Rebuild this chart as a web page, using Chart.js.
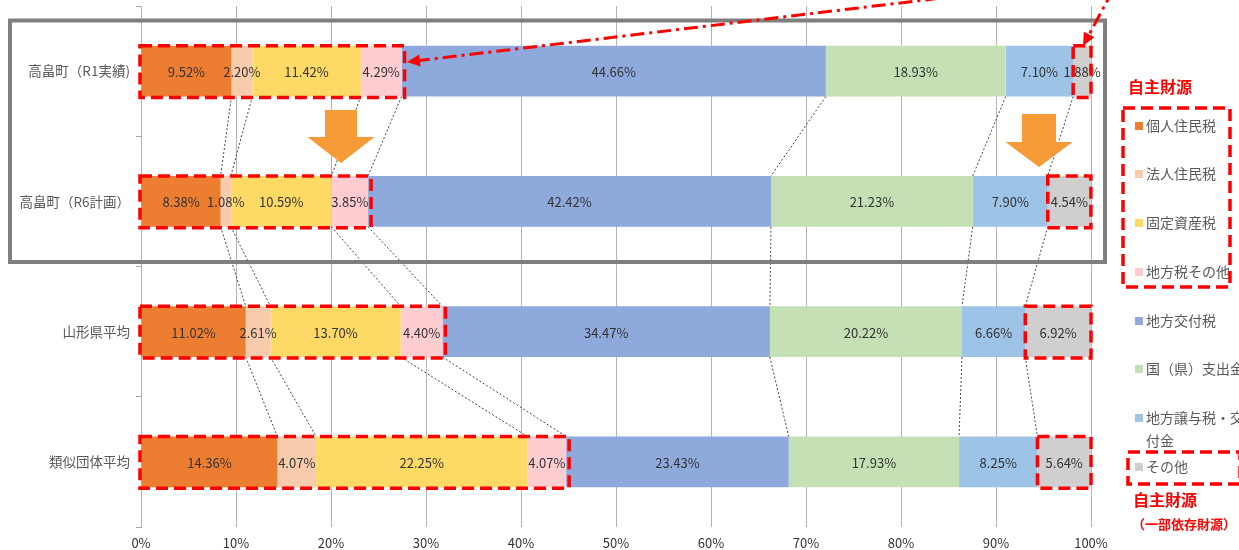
<!DOCTYPE html>
<html lang="ja">
<head>
<meta charset="utf-8">
<title>歳入構成比</title>
<script src="https://cdn.jsdelivr.net/npm/chart.js@4.4.1/dist/chart.umd.min.js"></script>
<style>
  html, body { margin: 0; padding: 0; background: #fff; }
  #wrap { position: relative; width: 1239px; height: 550px; }
</style>
</head>
<body>
<div id="wrap"><canvas id="finChart" width="1239" height="550"></canvas></div>
<script>
const categories = ['高畠町（R1実績)', '高畠町（R6計画）', '山形県平均', '類似団体平均'];
const seriesNames = ['個人住民税', '法人住民税', '固定資産税', '地方税その他', '地方交付税', '国（県）支出金', '地方譲与税・交付金', 'その他'];
const seriesColors = ['#ED7D31', '#F8CBAD', '#FFD966', '#FFCCD0', '#8EA9DB', '#C5E0B4', '#9DC3E6', '#D0CECE'];

const kojinJuminzei = [9.52, 8.38, 11.02, 14.36];
const hojinJuminzei = [2.20, 1.08, 2.61, 4.07];
const koteiShisanzei = [11.42, 10.59, 13.70, 22.25];
const chihozeiSonota = [4.29, 3.85, 4.40, 4.07];
const chihoKofuzei = [44.66, 42.42, 34.47, 23.43];
const kuniKenShishutsukin = [18.93, 21.23, 20.22, 17.93];
const chihoJoyozei = [7.10, 7.90, 6.66, 8.25];
const sonota = [1.88, 4.54, 6.92, 5.64];

const seriesValues = [kojinJuminzei, hojinJuminzei, koteiShisanzei, chihozeiSonota,
                      chihoKofuzei, kuniKenShishutsukin, chihoJoyozei, sonota];

const RED = '#FF0000';
const FONT = '"Noto Sans CJK JP", "Noto Sans", sans-serif';

// segment value labels
const barLabels = {
    id: 'barLabels',
    afterDatasetsDraw(chart) {
        const ctx = chart.ctx;
        ctx.save();
        ctx.font = '13px ' + FONT;
        ctx.fillStyle = '#333';
        ctx.textAlign = 'center';
        ctx.textBaseline = 'middle';
        chart.data.datasets.forEach((ds, k) => {
            chart.getDatasetMeta(k).data.forEach((el, i) => {
                ctx.fillText(ds.data[i].toFixed(2) + '%', (el.x + el.base) / 2, el.y + 1);
            });
        });
        ctx.restore();
    }
};

// dotted connectors, red dashed frames, arrows, legend
const overlays = {
    id: 'overlays',
    afterDraw(chart) {
        const ctx = chart.ctx;
        const metas = chart.data.datasets.map((d, k) => chart.getDatasetMeta(k));
        const x0 = chart.scales.x.getPixelForValue(0);

        // connectors between stacked boundaries
        ctx.save();
        ctx.strokeStyle = '#444';
        ctx.lineWidth = 1;
        ctx.setLineDash([2, 2]);
        for (let i = 0; i < categories.length - 1; i++) {
            for (let k = 0; k < metas.length - 1; k++) {
                const a = metas[k].data[i], b = metas[k].data[i + 1];
                ctx.beginPath();
                ctx.moveTo(a.x, a.y + a.height / 2);
                ctx.lineTo(b.x, b.y - b.height / 2);
                ctx.stroke();
            }
        }
        ctx.restore();

        // red dashed frames
        ctx.save();
        ctx.strokeStyle = RED;
        ctx.lineWidth = 3.5;
        ctx.setLineDash([12, 6]);
        for (let i = 0; i < categories.length; i++) {
            const e3 = metas[3].data[i], e6 = metas[6].data[i], e7 = metas[7].data[i];
            const top = e3.y - e3.height / 2, h = e3.height;
            ctx.strokeRect(x0 - 1, top, e3.x - x0 + 4, h + 1);
            ctx.strokeRect(e6.x, top, e7.x - e6.x, h + 1);
        }
        ctx.restore();

        // grey frame round the town rows
        ctx.save();
        ctx.strokeStyle = '#7F7F7F';
        ctx.lineWidth = 4;
        ctx.strokeRect(10, 20.5, 1095, 241.5);
        ctx.restore();

        // orange arrows
        const drawDownArrow = (cx, top, shaftW, shaftH, headW, headH) => {
            ctx.beginPath();
            ctx.moveTo(cx - shaftW / 2, top);
            ctx.lineTo(cx + shaftW / 2, top);
            ctx.lineTo(cx + shaftW / 2, top + shaftH);
            ctx.lineTo(cx + headW / 2, top + shaftH);
            ctx.lineTo(cx, top + shaftH + headH);
            ctx.lineTo(cx - headW / 2, top + shaftH);
            ctx.lineTo(cx - shaftW / 2, top + shaftH);
            ctx.closePath();
            ctx.fill();
        };
        ctx.save();
        ctx.fillStyle = '#F79A38';
        drawDownArrow(341, 110, 32, 27, 67, 26);
        drawDownArrow(1039, 114, 34, 28, 67, 25);
        ctx.restore();

        // red dash-dot pointers
        const pointer = (sx, sy, tx, ty) => {
            const ang = Math.atan2(ty - sy, tx - sx);
            const hl = 13, hw = 6;
            const bx = tx - hl * Math.cos(ang), by = ty - hl * Math.sin(ang);
            ctx.beginPath();
            ctx.moveTo(sx, sy);
            ctx.lineTo(bx, by);
            ctx.stroke();
            ctx.setLineDash([]);
            ctx.beginPath();
            ctx.moveTo(tx, ty);
            ctx.lineTo(bx + hw * Math.sin(ang), by - hw * Math.cos(ang));
            ctx.lineTo(bx - hw * Math.sin(ang), by + hw * Math.cos(ang));
            ctx.closePath();
            ctx.fill();
            ctx.setLineDash([14, 5, 3, 5]);
        };
        ctx.save();
        ctx.strokeStyle = RED;
        ctx.fillStyle = RED;
        ctx.lineWidth = 3;
        ctx.setLineDash([14, 5, 3, 5]);
        pointer(1100, -21, 407, 62);
        pointer(1113, -10, 1083, 46);
        ctx.restore();

        // legend
        ctx.save();
        ctx.textBaseline = 'middle';
        ctx.textAlign = 'left';
        ctx.fillStyle = RED;
        ctx.font = 'bold 16px ' + FONT;
        ctx.fillText('自主財源', 1128, 87);
        const rowY = [126, 174, 223, 272, 321, 369, 418, 467];
        ctx.font = '14px ' + FONT;
        seriesNames.forEach((name, k) => {
            ctx.fillStyle = seriesColors[k];
            ctx.fillRect(1135, rowY[k] - 4, 8, 8);
            ctx.fillStyle = '#595959';
            if (name.length > 7) {
                ctx.fillText(name.slice(0, 7), 1146, rowY[k]);
                ctx.fillText(name.slice(7), 1146, rowY[k] + 23);
            } else {
                ctx.fillText(name, 1146, rowY[k]);
            }
        });
        ctx.strokeStyle = RED;
        ctx.lineWidth = 3.5;
        ctx.setLineDash([12, 6]);
        ctx.strokeRect(1123, 108, 107, 179);
        ctx.strokeRect(1128, 452, 112, 32);
        ctx.setLineDash([]);
        ctx.fillStyle = RED;
        ctx.font = 'bold 16px ' + FONT;
        ctx.fillText('自主財源', 1133, 500);
        ctx.font = 'bold 13px ' + FONT;
        ctx.fillText('（一部依存財源）', 1132, 524);
        ctx.restore();
    }
};

new Chart(document.getElementById('finChart'), {
    type: 'bar',
    data: {
        labels: categories,
        datasets: seriesNames.map((name, k) => ({
            label: name,
            data: seriesValues[k],
            backgroundColor: seriesColors[k],
            borderWidth: 0,
            barPercentage: 0.39,
            categoryPercentage: 1
        }))
    },
    options: {
        indexAxis: 'y',
        responsive: false,
        animation: false,
        devicePixelRatio: 1,
        layout: { padding: { top: 6, right: 148, left: 0, bottom: 0 } },
        scales: {
            x: {
                stacked: true,
                min: 0,
                max: 100,
                afterFit: s => { s.height = 23; },
                border: { display: false },
                grid: { color: '#B4B4B4', drawTicks: false },
                ticks: {
                    stepSize: 10,
                    padding: 8,
                    color: '#333',
                    font: { size: 13, family: FONT },
                    callback: v => v + '%'
                }
            },
            y: {
                stacked: true,
                afterFit: s => { s.width = 141; s.paddingTop = 0; s.paddingBottom = 0; },
                border: { display: true, color: '#B4B4B4' },
                grid: { drawOnChartArea: false, tickLength: 5, color: '#A6A6A6' },
                ticks: {
                    padding: 6,
                    color: '#595959',
                    font: { size: 13.5, family: FONT }
                }
            }
        },
        plugins: {
            legend: { display: false },
            tooltip: { enabled: false }
        }
    },
    plugins: [barLabels, overlays]
});
</script>
</body>
</html>
